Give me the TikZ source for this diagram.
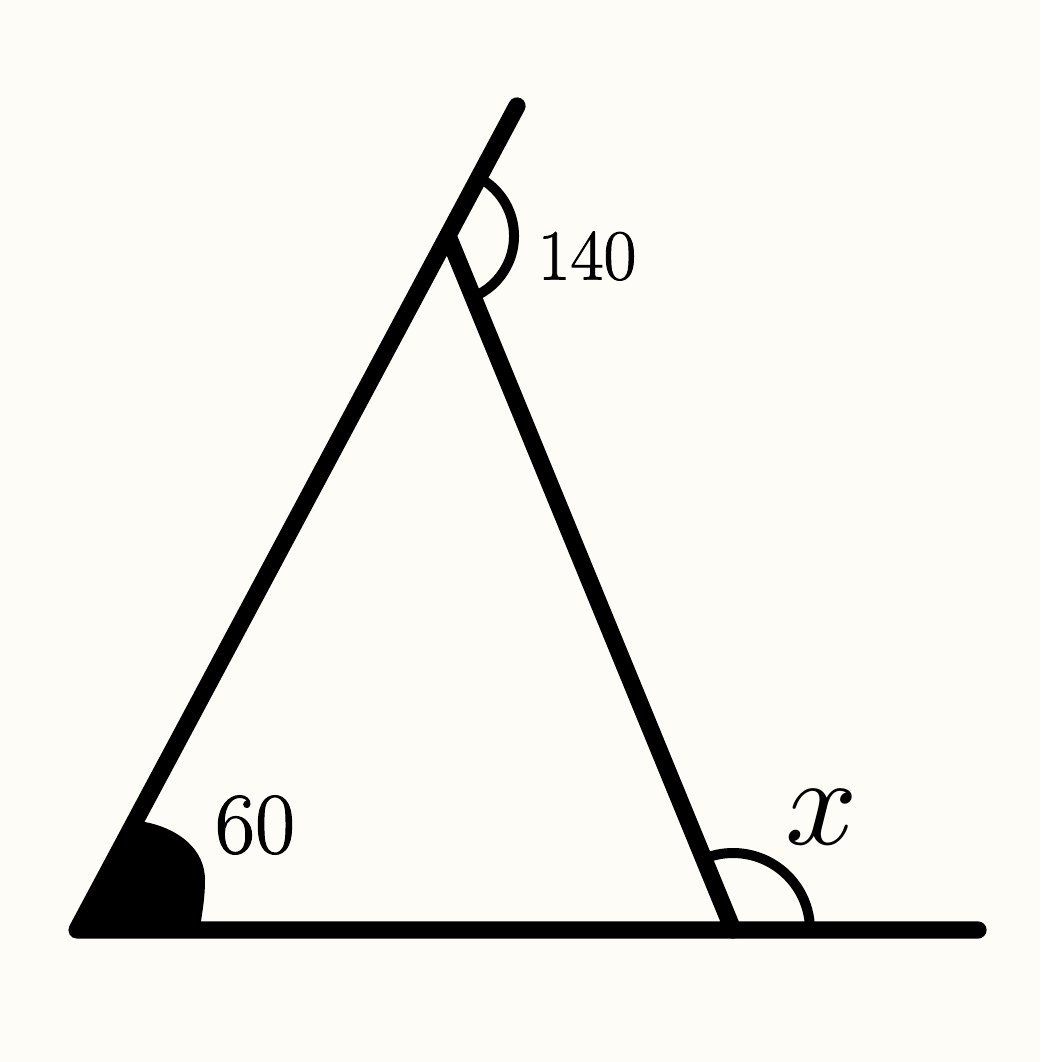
\documentclass[tikz,border=0pt]{standalone}
\usepackage{fontspec}
\newfontfamily\heavylm[FakeBold=1.2]{Latin Modern Roman}
\begin{document}
\begin{tikzpicture}[x=0.025cm,y=0.025cm,
  seg/.style={line width=0.43cm,line cap=round,line join=round},
  anglearc/.style={line width=0.25cm,line cap=butt},
  lbl/.style={inner sep=0pt,anchor=center}]
\definecolor{bgc}{RGB}{253,252,247}
\fill[bgc] (0,0) rectangle (1040,1062);
\useasboundingbox (0,0) rectangle (1040,1062);
\coordinate (A) at (77,132);
\coordinate (B) at (448,826);
\coordinate (C) at (733,132);
\coordinate (T) at (517,956);
\coordinate (R) at (978,132);
% filled angle at A
\fill[line join=round] (A) -- (134,239) -- (145,240)
  .. controls (180,233) and (205,212) .. (205,182)
  .. controls (205,160) and (201,145) .. (200,132) -- cycle;
% lines
\draw[seg] (T) -- (A) -- (R);
\draw[seg] (B) -- (C);
% angle arcs
\draw[anglearc] ([shift={(61.9:66)}]B) arc[start angle=61.9,end angle=-67.7,radius=66];
\draw[anglearc] ([shift={(0:77)}]C) arc[start angle=0,end angle=112.3,radius=77];
% labels
\node[lbl,font=\heavylm\fontsize{62}{66}\selectfont] (l60) at (255,237) {60};
\node[lbl,font=\heavylm\fontsize{51}{55}\selectfont] (l140) at (587,806) {140};
\node[lbl,scale=9] (lx) at (822,245) {$x$};
\end{tikzpicture}
\end{document}
